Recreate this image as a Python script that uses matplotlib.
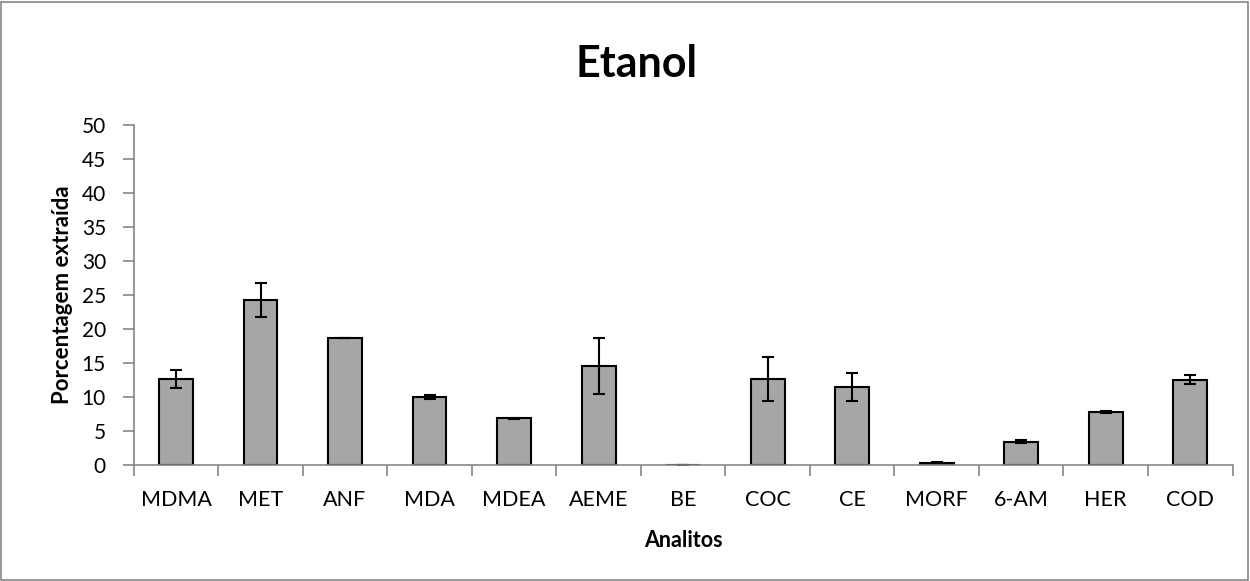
import matplotlib.pyplot as plt
import numpy as np
from matplotlib.patches import Rectangle

plt.rcParams['font.family'] = ['Lato', 'DejaVu Sans']

analitos = ['MDMA', 'MET', 'ANF', 'MDA', 'MDEA', 'AEME', 'BE', 'COC', 'CE',
            'MORF', '6-AM', 'HER', 'COD']
porcentagem = [12.7, 24.3, 18.7, 10.1, 6.9, 14.6, 0.0, 12.7, 11.5, 0.35, 3.5, 7.9, 12.6]
desvio = [1.35, 2.45, 0.05, 0.3, 0.12, 4.05, 0.0, 3.25, 2.05, 0.1, 0.25, 0.15, 0.7]

fig = plt.figure(figsize=(12.5, 5.81), dpi=100)
ax = fig.add_axes([0.107, 0.199, 0.879, 0.586])

x = np.arange(len(analitos))
ax.bar(x, porcentagem, width=0.4, color='#A6A6A6', edgecolor='black', linewidth=1.5,
       yerr=desvio, error_kw=dict(ecolor='black', elinewidth=1.5, capsize=4.3, capthick=1.5))

ax.set_xlim(-0.5, len(analitos) - 0.5)
ax.set_ylim(0, 50)
ax.set_yticks(range(0, 51, 5))
ax.set_xticks(x)
ax.set_xticklabels(analitos)
ax.set_xticks(np.arange(-0.5, len(analitos), 1), minor=True)
ax.tick_params(axis='x', which='major', length=0, pad=18, labelsize=15.5)
ax.tick_params(axis='x', which='minor', length=8, width=1.2, color='#868686')
ax.tick_params(axis='y', length=8, width=1.2, color='#868686', labelsize=15, pad=12)

for s in ['top', 'right']:
    ax.spines[s].set_visible(False)
for s in ['left', 'bottom']:
    ax.spines[s].set_color('#868686')
    ax.spines[s].set_linewidth(1.2)

ax.set_xlabel('Analitos', fontsize=15.5, fontweight='bold', labelpad=14)
ax.set_ylabel('Porcentagem extraída', fontsize=16, fontweight='bold', labelpad=6)
fig.text(0.509, 0.89, 'Etanol', ha='center', va='center', fontsize=31, fontweight='bold')

fig.patches.append(Rectangle((0.001, 0.002), 0.997, 0.995, transform=fig.transFigure,
                             fill=False, edgecolor='#868686', linewidth=1.2))

fig.savefig('out.png', dpi=100)
